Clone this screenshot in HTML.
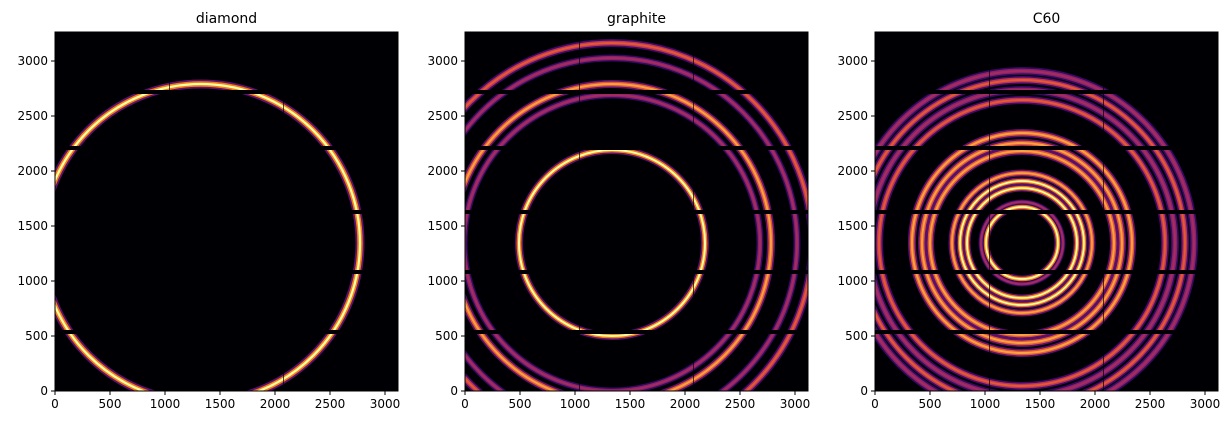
<!DOCTYPE html>
<html><head><meta charset="utf-8"><style>
body{margin:0;background:#fff;width:1232px;height:425px;overflow:hidden}
svg text{font-family:"DejaVu Sans","Liberation Sans",sans-serif}
</style></head><body>
<svg id="s" width="1232" height="425" xmlns="http://www.w3.org/2000/svg"></svg>
<script>
const S=document.getElementById('s');
let h='';
const panels=[
 {x:55,t:'diamond',cx:201,rings:[[159,9,3]]},
 {x:465,t:'graphite',cx:612,rings:[[93,8,3],[148,7,1],[159,8,2],[185,7,1],[200,8,1.5]]},
 {x:875,t:'C60',cx:1022,rings:[[36,7,3],[41,5,1],[55,7,3],[62,7,3],[70,7,2],[92,8,2],[100,8,2],[110,8,2],[143,8,1.5],[153,8,1],[163,8,1.5],[172,8,1]]}
];
const cols={3:['#5c126e','#f57d15','#fcffa4'],2:['#5c126e','#e35933','#f9a242'],1.5:['#420a68','#bc3754','#e35933'],1:['#320a5e','#8a226a','#a52c60']};
panels.forEach((p,i)=>{
 const cy=243;
 h+=`<clipPath id="c${i}"><rect x="${p.x}" y="32" width="343" height="359"/></clipPath>`;
 h+=`<g clip-path="url(#c${i})"><rect x="${p.x}" y="32" width="343" height="359" fill="#000004"/>`;
 p.rings.forEach(r=>{const c=cols[r[2]];
  h+=`<circle cx="${p.cx}" cy="${cy}" r="${r[0]}" fill="none" stroke="${c[0]}" stroke-width="${r[1]}"/>`;
  h+=`<circle cx="${p.cx}" cy="${cy}" r="${r[0]}" fill="none" stroke="${c[1]}" stroke-width="${r[1]*0.6}"/>`;
  h+=`<circle cx="${p.cx}" cy="${cy}" r="${r[0]}" fill="none" stroke="${c[2]}" stroke-width="${r[1]*0.25}"/>`;
 });
 [92,148,212,272,332].forEach(y=>h+=`<rect x="${p.x}" y="${y-2}" width="343" height="4" fill="#000004"/>`);
 [114,228].forEach(d=>h+=`<rect x="${p.x+d}" y="32" width="1" height="359" fill="#000004" opacity="0.7"/>`);
 h+=`</g><rect x="${p.x}" y="32" width="343" height="359" fill="none" stroke="#000" stroke-width="1"/>`;
 h+=`<text x="${p.x+171.5}" y="23" font-size="14" text-anchor="middle">${p.t}</text>`;
 for(let v=0;v<=3000;v+=500){
  const x=p.x+v*0.11;
  h+=`<line x1="${x}" y1="391" x2="${x}" y2="395" stroke="#000"/>`;
  h+=`<text x="${x}" y="408" font-size="12" text-anchor="middle">${v}</text>`;
  const y=391-v*0.11;
  h+=`<line x1="${p.x-4}" y1="${y}" x2="${p.x}" y2="${y}" stroke="#000"/>`;
  h+=`<text x="${p.x-7}" y="${y+4}" font-size="12" text-anchor="end">${v}</text>`;
 }
});
S.innerHTML=h;
</script>
</body></html>
